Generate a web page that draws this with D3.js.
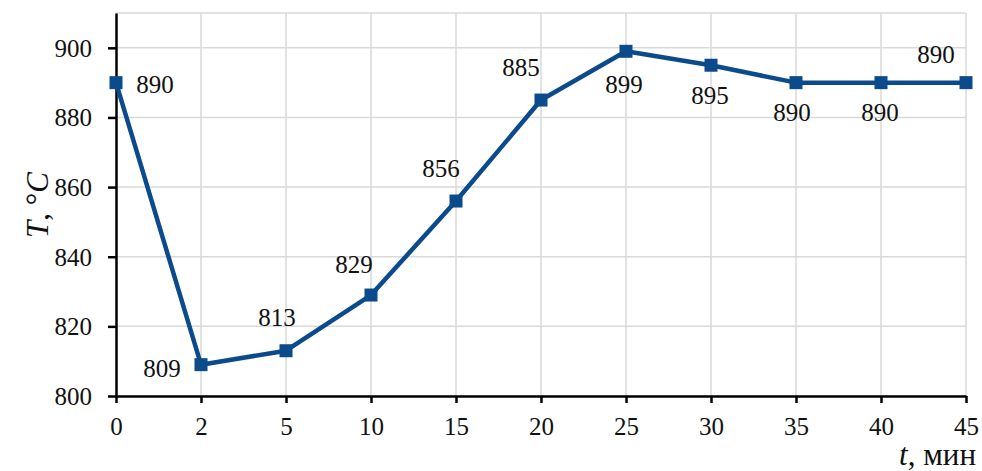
<!DOCTYPE html>
<html>
<head>
<meta charset="utf-8">
<script src="https://cdn.jsdelivr.net/npm/d3@7"></script>
<style>
  body { margin: 0; background: #fff; }
  svg text { font-family: "Liberation Serif", "Times New Roman", Times, "DejaVu Serif", serif !important; }
</style>
</head>
<body>
<svg width="982" height="471"></svg>
<script>
// Данные: время (мин) и температура (°C)
const times = ["0", "2", "5", "10", "15", "20", "25", "30", "35", "40", "45"];
const temps = [890, 809, 813, 829, 856, 885, 899, 895, 890, 890, 890];
const yTicks = [800, 820, 840, 860, 880, 900];

const data = times.map((t, i) => ({ t, v: temps[i] }));

// Размеры
const margin = { top: 13, right: 16, bottom: 75, left: 116 };
const width = 982 - margin.left - margin.right;
const height = 471 - margin.top - margin.bottom;

const svg = d3.select("svg")
    .append("g")
    .attr("transform", `translate(${margin.left},${margin.top})`);

const x = d3.scalePoint().domain(times).range([0, width]);
const y = d3.scaleLinear().domain([800, 910]).range([height, 0]);

// Сетка
svg.append("g")
    .selectAll("line")
    .data(yTicks.concat([910]))
    .join("line")
    .attr("x1", 0).attr("x2", width)
    .attr("y1", d => y(d)).attr("y2", d => y(d))
    .attr("stroke", "#d9d9d9").attr("stroke-width", 1.5);

svg.append("g")
    .selectAll("line")
    .data(times.slice(1))
    .join("line")
    .attr("x1", d => x(d)).attr("x2", d => x(d))
    .attr("y1", 0).attr("y2", height)
    .attr("stroke", "#d9d9d9").attr("stroke-width", 1.5);

// Оси
const xAxis = svg.append("g")
    .attr("transform", `translate(0,${height})`)
    .call(d3.axisBottom(x).tickSizeInner(7).tickSizeOuter(0).tickPadding(14));
const yAxis = svg.append("g")
    .call(d3.axisLeft(y).tickValues(yTicks).tickSizeInner(8).tickSizeOuter(0).tickPadding(16));

[xAxis, yAxis].forEach(a => {
    a.attr("font-family", null).attr("font-size", null);
    a.select(".domain").attr("stroke", "#000").attr("stroke-width", 2.5);
    a.selectAll(".tick line").attr("stroke", "#000").attr("stroke-width", 2.5);
    a.selectAll(".tick text")
        .attr("fill", "#111")
        .style("font-size", "25px");
});
xAxis.selectAll(".tick text").attr("dy", "0.71em");
yAxis.selectAll(".tick text").attr("dy", "0.34em");

// Линия
const line = d3.line().x(d => x(d.t)).y(d => y(d.v));
svg.append("path")
    .datum(data)
    .attr("fill", "none")
    .attr("stroke", "#0b4a8b")
    .attr("stroke-width", 4.5)
    .attr("stroke-linejoin", "round")
    .attr("d", line);

// Маркеры
svg.selectAll(".marker")
    .data(data)
    .join("rect")
    .attr("class", "marker")
    .attr("x", d => x(d.t) - 6.5)
    .attr("y", d => y(d.v) - 6.5)
    .attr("width", 13).attr("height", 13)
    .attr("fill", "#0b4a8b");

// Подписи значений (смещения от точки)
const labelOffsets = [
    [39, 10], [-39, 12], [-9, -25], [-17, -22], [-15, -24], [-20, -24],
    [-2, 42], [-1, 39], [-4, 38], [-1, 38], [-30, -20]
];
svg.selectAll(".label")
    .data(data)
    .join("text")
    .attr("class", "label")
    .attr("x", (d, i) => x(d.t) + labelOffsets[i][0])
    .attr("y", (d, i) => y(d.v) + labelOffsets[i][1])
    .attr("text-anchor", "middle")
    .attr("fill", "#111")
    .style("font-size", "25px")
    .text(d => d.v);

// Подписи осей
const yTitle = d3.select("svg").append("text")
    .attr("transform", "translate(48,205) rotate(-90)")
    .attr("text-anchor", "middle")
    .attr("fill", "#111")
    .style("font-size", "31px");
yTitle.append("tspan").style("font-style", "italic").text("T");
yTitle.append("tspan").text(", °");
yTitle.append("tspan").style("font-style", "italic").text("C");

const xTitle = d3.select("svg").append("text")
    .attr("x", 976)
    .attr("y", 465)
    .attr("text-anchor", "end")
    .attr("fill", "#111")
    .style("font-size", "31px");
xTitle.append("tspan").style("font-style", "italic").text("t");
xTitle.append("tspan").text(", мин");
</script>
</body>
</html>
